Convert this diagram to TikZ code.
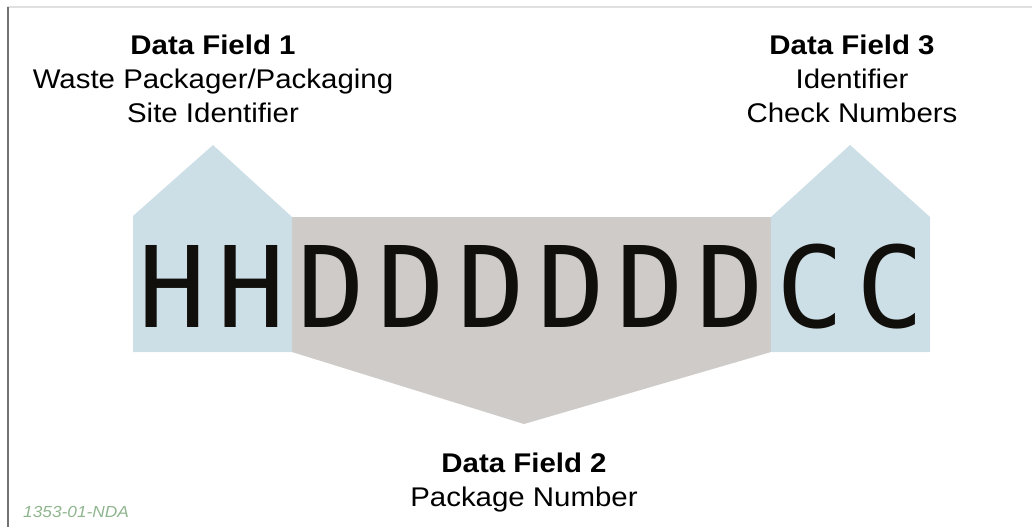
\documentclass[tikz,border=0pt]{standalone}
\usepackage{fontspec}
\usepackage{tikz}
\usepackage{xcolor}
\usetikzlibrary{positioning}
\setmainfont{Liberation Sans}
\newfontfamily\ocrfont{DejaVu Sans Mono}
\definecolor{fieldblue}{RGB}{204, 222, 230}
\definecolor{fieldgray}{RGB}{206, 203, 200}
\definecolor{codegreen}{RGB}{143, 181, 143}
\definecolor{inkblack}{RGB}{17, 15, 12}
\tikzstyle{fieldtext} = [
    align=center,
    inner sep=0pt,
    anchor=base,
    xscale=1.09,
    transform shape,
    font=\fontsize{27}{34}\selectfont
]
\tikzstyle{codechar} = [
    inner sep=0pt,
    anchor=base,
    text=inkblack,
    font=\ocrfont\fontsize{112.5}{112.5}\selectfont
]

\begin{document}
\begin{tikzpicture}[x=1pt, y=-1pt]
    \useasboundingbox (0,0) rectangle (1032,527);
    % frame lines
    \draw[black!12, line width=1.5pt] (7,7) -- (1032,7);
    \draw[black!55, line width=2pt] (7.5,7) -- (7.5,527);
    % field shapes
    \fill[fieldgray] (292,217) -- (771,217) -- (771,352) -- (524,424) -- (292,352) -- cycle;
    \fill[fieldblue] (133,352) -- (133,216) -- (213,145) -- (292,217) -- (292,352) -- cycle;
    \fill[fieldblue] (771,352) -- (771,217) -- (850,145) -- (930,217) -- (930,352) -- cycle;
    % characters
    \foreach \ch [count=\i from 0] in {H,H,D,D,D,D,D,D,C,C}
        \node[codechar] (ch\i) at (172+79.8*\i, 327) {\ch};
    % labels (base = last line)
    \node[fieldtext] (f1) at (213, 122) {\textbf{Data Field 1}\\Waste Packager/Packaging\\Site Identifier};
    \node[fieldtext] (f3) at (852, 122) {\textbf{Data Field 3}\\Identifier\\Check Numbers};
    \node[fieldtext] (f2) at (524, 506) {\textbf{Data Field 2}\\Package Number};
    \node[inner sep=0pt, anchor=base west, xscale=1.08, transform shape, text=codegreen,
          font=\itshape\fontsize{16}{16}\selectfont] (tag) at (23, 517) {1353-01-NDA};
\end{tikzpicture}
\end{document}
